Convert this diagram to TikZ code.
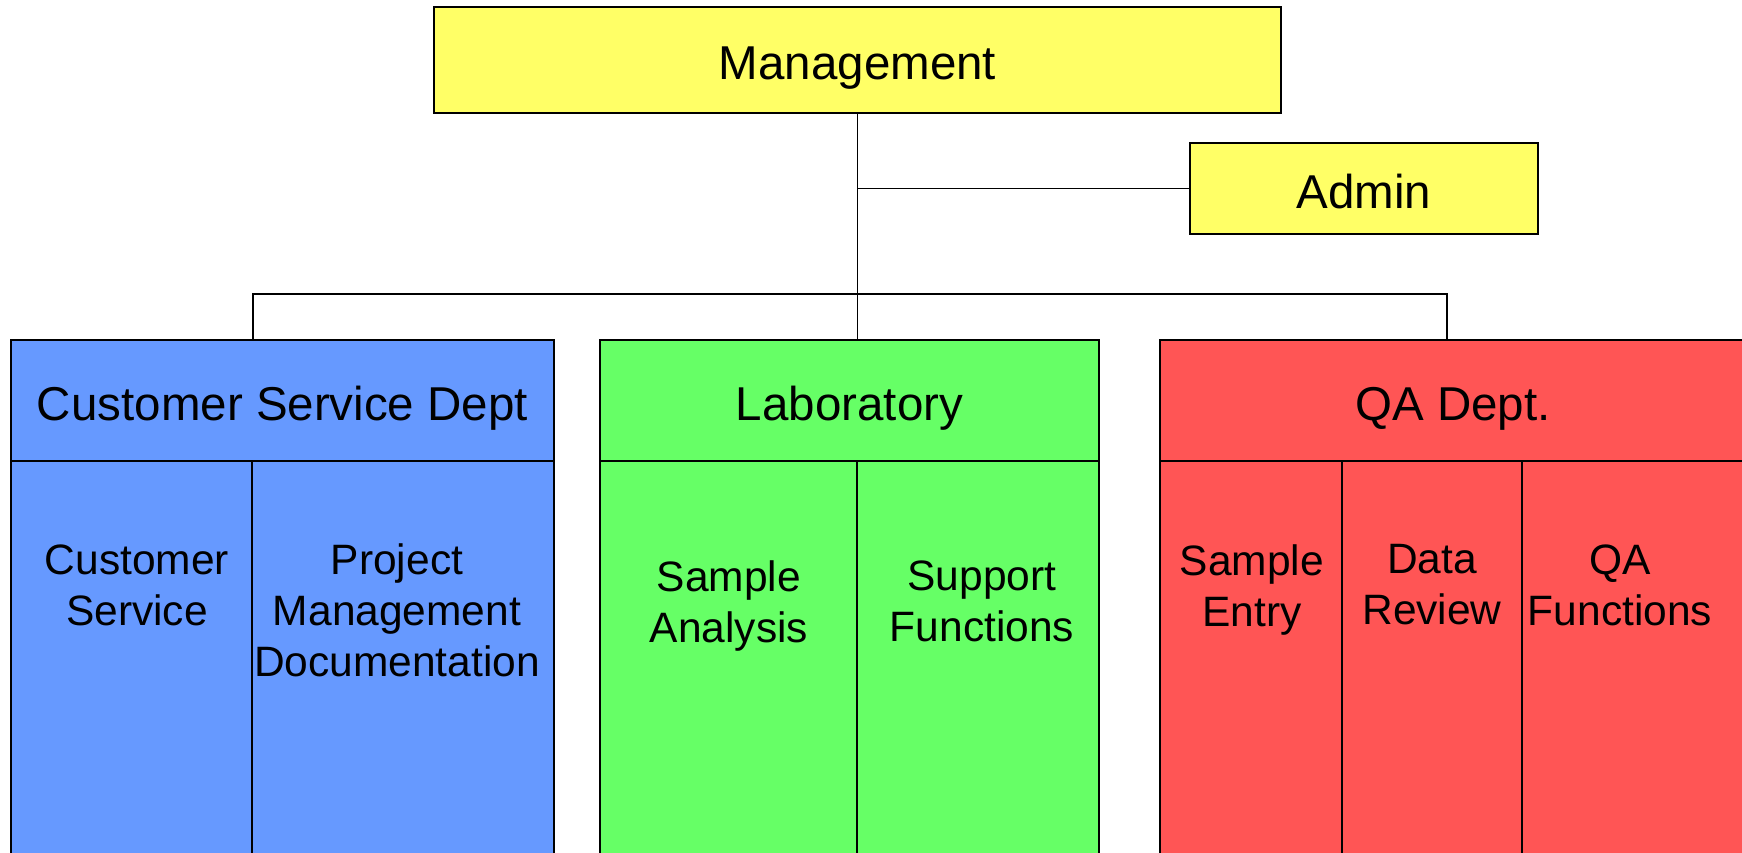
\documentclass[tikz,border=0pt]{standalone}
\usepackage{fontspec}
\setmainfont{Liberation Sans}
\definecolor{mgmtyellow}{HTML}{FFFF66}
\definecolor{csblue}{HTML}{6699FF}
\definecolor{labgreen}{HTML}{66FF66}
\definecolor{qared}{HTML}{FF5555}
\begin{document}
\begin{tikzpicture}[x=1pt,y=-1pt,
  box/.style={draw=black, line width=2pt, inner sep=0pt, outer sep=0pt, anchor=north west},
  head/.style={font=\fontsize{47.5}{57}\selectfont, text height=39pt, text depth=0pt},
  sub/.style={font=\fontsize{42.5}{51}\selectfont, align=center, inner sep=0pt},
  wire/.style={draw=black, line width=1.6pt}]
\clip (0,0) rectangle (1742,852);
\useasboundingbox (0,0) rectangle (1742,852);

% top level
\node[box, head, fill=mgmtyellow, minimum width=847pt, minimum height=106pt] (mgmt) at (434,7) {Management};
\node[box, head, fill=mgmtyellow, minimum width=348pt, minimum height=91pt] (admin) at (1190,143) {Admin};

% Customer Service department
\node[box, head, fill=csblue, minimum width=543pt, minimum height=121pt] (cs) at (11,340) {Customer Service Dept};
\node[box, fill=csblue, minimum width=241pt, minimum height=420pt] (csA) at (11,461) {};
\node[box, fill=csblue, minimum width=302pt, minimum height=420pt] (csB) at (252,461) {};

% Laboratory
\node[box, head, fill=labgreen, minimum width=499pt, minimum height=121pt] (lab) at (600,340) {Laboratory};
\node[box, fill=labgreen, minimum width=257pt, minimum height=420pt] (labA) at (600,461) {};
\node[box, fill=labgreen, minimum width=242pt, minimum height=420pt] (labB) at (857,461) {};

% QA department
\node[box, fill=qared, minimum width=600pt, minimum height=121pt] (qa) at (1160,340) {};
\node[head, inner sep=0pt] (qatitle) at (1453,400.5) {QA Dept.};
\node[box, fill=qared, minimum width=182pt, minimum height=420pt] (qaA) at (1160,461) {};
\node[box, fill=qared, minimum width=180pt, minimum height=420pt] (qaB) at (1342,461) {};
\node[box, fill=qared, minimum width=240pt, minimum height=420pt] (qaC) at (1522,461) {};

% section labels
\node[sub] (tCS)  at (137,585)  {Customer\\Service};
\node[sub] (tPM)  at (397,610)  {Project\\Management\\Documentation};
\node[sub] (tSA)  at (729,605.5) {Sample\\Analysis};
\node[sub] (tSF)  at (982,601)  {Support\\Functions};
\node[sub] (tSE)  at (1252,589.5) {Sample\\Entry};
\node[sub] (tDR)  at (1432,585) {Data\\Review};
\node[sub] (tQF)  at (1620,585) {QA\\Functions};

% connectors
\coordinate (busL) at (253,294);
\coordinate (busR) at (1447,294);
\draw[wire] (mgmt.south) -- (mgmt.south |- lab.north);
\draw[wire] (mgmt.south |- admin.west) -- (admin.west);
\draw[wire] (cs.north -| busL) -- (busL) -- (busR) -- (busR |- qa.north);
\end{tikzpicture}
\end{document}
